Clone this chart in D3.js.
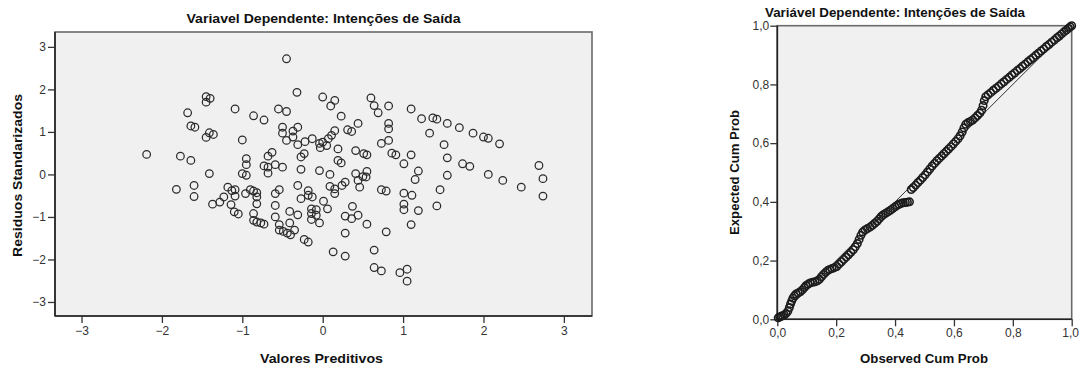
<!DOCTYPE html>
<html>
<head>
<meta charset="utf-8">
<script src="https://cdn.jsdelivr.net/npm/d3@7"></script>
<style>
  html, body { margin: 0; padding: 0; background: #ffffff; }
  svg { display: block; font-family: Arial, "Liberation Sans", sans-serif; }
</style>
</head>
<body>
<svg id="chart" width="1079" height="366"></svg>
<script>
// Scatter of standardized residuals against standardized predicted values
const predicted = [
  -0.45,-0.32,-1.45,-1.40,-1.45,-1.68,-1.09,-0.86,-0.73,-0.55,-0.45,0.00,0.15,0.10,0.23,
  -1.64,-1.59,-1.41,-1.36,-1.45,-1.00,-0.50,-0.31,-0.37,-0.50,-0.37,-0.45,-0.31,-0.22,-0.13,
  -0.04,0.00,0.05,-0.03,0.07,0.11,0.15,0.31,0.36,0.44,0.19,0.41,-0.23,-0.27,-2.19,
  -1.77,-1.64,-0.95,-0.95,-0.68,-0.63,-0.59,-0.73,-0.68,-0.50,-0.27,-1.41,-1.00,-0.95,-0.68,
  -0.04,0.09,0.41,0.19,0.23,
  -1.82,-1.60,-1.60,-1.37,-1.28,-1.23,-1.18,-1.13,-1.09,-1.09,-1.14,-1.10,-1.05,-0.96,-0.90,
  -0.86,-0.82,-0.82,-0.82,-0.86,-0.86,-0.82,-0.77,-0.73,-0.59,-0.54,-0.59,-0.59,-0.54,-0.54,
  -0.49,-0.44,-0.40,-0.35,-0.41,-0.41,-0.31,-0.31,-0.27,-0.18,-0.18,-0.13,-0.23,-0.18,-0.14,
  -0.14,-0.14,-0.08,-0.08,-0.04,0.01,0.06,0.09,0.15,0.15,0.24,0.28,0.44,0.13,0.28,
  0.28,0.28,0.36,0.37,0.44,
  0.46,0.50,0.54,0.55,0.55,0.73,0.79,0.79,0.64,0.64,0.73,0.96,1.05,1.05,1.01,
  1.11,1.01,1.01,1.19,1.10,1.15,1.19,1.42,1.46,1.55,2.06,2.24,2.47,2.74,2.74,
  0.60,0.64,0.69,0.82,1.10,0.82,0.82,1.23,1.37,1.42,1.55,1.70,1.33,1.87,2.00,
  2.06,2.20,0.73,0.82,0.51,0.55,0.86,0.91,1.10,1.01,1.51,1.55,1.74,1.83,2.69
];
const residuals = [
  2.72,1.93,1.83,1.79,1.70,1.45,1.54,1.38,1.28,1.54,1.48,1.82,1.74,1.61,1.37,
  1.14,1.11,0.98,0.94,0.87,0.81,1.11,1.11,1.02,0.97,0.88,0.80,0.70,0.77,0.84,
  0.73,0.76,0.68,0.63,0.84,0.92,1.03,1.05,1.01,1.20,0.60,0.56,0.49,0.41,0.47,
  0.43,0.33,0.37,0.23,0.43,0.52,0.23,0.20,0.17,0.17,0.12,0.02,0.02,-0.02,0.03,
  0.09,0.00,0.02,0.33,0.27,
  -0.35,-0.26,-0.52,-0.70,-0.65,-0.53,-0.30,-0.38,-0.36,-0.51,-0.71,-0.88,-0.93,-0.45,-0.36,
  -0.39,-0.43,-0.53,-0.69,-0.92,-1.08,-1.12,-1.14,-1.17,-0.45,-0.36,-0.73,-1.00,-1.18,-1.31,
  -1.34,-1.38,-1.42,-1.31,-1.14,-0.87,-0.26,-0.95,-0.57,-0.38,-0.49,-0.53,-1.53,-1.59,-0.81,
  -0.92,-1.06,-0.83,-0.96,-1.14,-0.63,-0.81,-0.28,-0.34,-0.45,-0.26,-0.18,-0.14,-1.82,-1.92,
  -1.38,-0.98,-1.04,-0.75,-0.96,
  -0.30,-0.05,-0.06,0.07,-1.17,-0.36,-0.39,-1.35,-1.78,-2.19,-2.27,-2.31,-2.23,-2.51,-0.44,
  -0.49,-0.70,-0.83,-0.85,-1.18,-0.12,0.08,-0.74,-0.36,-0.02,0.00,-0.14,-0.30,-0.10,-0.51,
  1.80,1.62,1.45,1.61,1.54,1.20,1.07,1.31,1.33,1.30,1.20,1.10,0.97,0.97,0.88,
  0.85,0.72,0.73,0.80,0.49,0.46,0.50,0.46,0.46,0.25,0.70,0.39,0.25,0.19,0.21
];
const scatterTicks = [-3, -2, -1, 0, 1, 2, 3];

// Normal P-P plot of the standardized residuals
const observedCum = [
  0.003,0.008,0.013,0.018,0.024,0.030,0.036,0.041,0.045,0.049,0.053,0.058,0.064,0.071,0.078,
  0.085,0.092,0.098,0.105,0.112,0.120,0.128,0.136,0.143,0.150,0.157,0.164,0.171,0.178,0.186,
  0.194,0.202,0.210,0.218,0.226,0.234,0.242,0.250,0.258,0.265,0.272,0.278,0.284,0.290,0.298,
  0.306,0.315,0.323,0.331,0.339,0.346,0.353,0.360,0.368,0.376,0.384,0.392,0.400,0.407,0.414,
  0.421,0.428,0.435,0.442,0.449,
  0.455,0.462,0.470,0.478,0.486,0.494,0.502,0.510,0.518,0.526,0.534,0.542,0.550,0.558,0.566,
  0.574,0.582,0.590,0.598,0.606,0.614,0.621,0.628,0.634,0.640,0.648,0.656,0.664,0.672,0.680,
  0.688,0.694,0.699,0.703,0.708,0.716,0.725,0.734,0.743,0.752,0.761,0.770,0.779,0.788,0.797,
  0.806,0.815,0.824,0.833,0.842,0.851,0.860,0.869,0.878,0.887,0.896,0.905,0.914,0.923,0.932,
  0.941,0.950,0.958,0.966,0.974,0.982,0.989,0.995,1.000
];
const expectedCum = [
  0.005,0.008,0.010,0.012,0.015,0.020,0.028,0.040,0.052,0.062,0.072,0.080,0.086,0.090,0.094,
  0.100,0.108,0.115,0.120,0.124,0.126,0.128,0.131,0.136,0.145,0.153,0.160,0.166,0.170,0.173,
  0.176,0.180,0.188,0.196,0.204,0.212,0.220,0.228,0.237,0.247,0.258,0.272,0.286,0.297,0.304,
  0.309,0.314,0.320,0.327,0.334,0.342,0.350,0.356,0.361,0.366,0.371,0.377,0.383,0.388,0.392,
  0.395,0.397,0.398,0.399,0.400,
  0.442,0.449,0.457,0.466,0.474,0.483,0.492,0.502,0.512,0.522,0.531,0.540,0.548,0.556,0.564,
  0.572,0.580,0.588,0.597,0.606,0.615,0.625,0.638,0.652,0.664,0.670,0.674,0.679,0.686,0.694,
  0.702,0.712,0.728,0.745,0.758,0.765,0.772,0.780,0.787,0.794,0.802,0.809,0.817,0.824,0.832,
  0.839,0.847,0.854,0.862,0.869,0.877,0.884,0.891,0.899,0.906,0.914,0.921,0.929,0.936,0.944,
  0.951,0.959,0.965,0.972,0.979,0.985,0.991,0.996,1.000
];
const probTicks = [0, 0.2, 0.4, 0.6, 0.8, 1.0];

const svg = d3.select("#chart");
const commaFmt = d => d3.format(".1f")(d).replace(".", ",");
const plotFill = "#f0f0f0";
const markStroke = "#2b2b2b";

function styleAxis(g) {
  g.select(".domain").remove();
  g.selectAll(".tick line").attr("stroke", "#333").attr("stroke-width", 1.3);
  g.selectAll(".tick text").attr("fill", "#333").attr("font-size", 12)
    .attr("font-family", "Arial, 'Liberation Sans', sans-serif");
}

function drawFrame(x0, y0, x1, y1) {
  // plot background + light right/top border, dark axis lines left/bottom
  svg.append("rect").attr("x", x0).attr("y", y0).attr("width", x1 - x0).attr("height", y1 - y0)
    .attr("fill", plotFill).attr("stroke", "#6a6a6a").attr("stroke-width", 1.6);
  svg.append("line").attr("x1", x0).attr("x2", x0).attr("y1", y0).attr("y2", y1)
    .attr("stroke", "#222").attr("stroke-width", 1.6);
  svg.append("line").attr("x1", x0).attr("x2", x1).attr("y1", y1).attr("y2", y1)
    .attr("stroke", "#222").attr("stroke-width", 1.6);
}

function boldText(x, y, txt, len, rotate) {
  const t = svg.append("text")
    .attr("font-weight", "bold").attr("font-size", 13).attr("fill", "#111")
    .attr("text-anchor", "middle")
    .attr("textLength", len).attr("lengthAdjust", "spacingAndGlyphs")
    .text(txt);
  if (rotate) t.attr("transform", `translate(${x},${y}) rotate(-90)`);
  else t.attr("x", x).attr("y", y);
  return t;
}

// ---- Left panel: residuals vs predicted ----
const xL = d3.scaleLinear().domain([-3.33, 3.35]).range([55, 592]);
const yL = d3.scaleLinear().domain([-3.33, 3.35]).range([316, 32]);

drawFrame(55, 32, 592, 316);

svg.append("g").attr("transform", "translate(55,0)")
  .call(d3.axisLeft(yL).tickValues(scatterTicks).tickSize(7).tickPadding(2).tickFormat(d3.format("d")))
  .call(styleAxis);
svg.append("g").attr("transform", "translate(0,316)")
  .call(d3.axisBottom(xL).tickValues(scatterTicks).tickSize(7).tickPadding(3).tickFormat(d3.format("d")))
  .call(styleAxis);

svg.append("g").selectAll("circle")
  .data(d3.range(predicted.length))
  .join("circle")
  .attr("cx", i => xL(predicted[i]))
  .attr("cy", i => yL(residuals[i]))
  .attr("r", 3.8)
  .attr("fill", "none")
  .attr("stroke", markStroke)
  .attr("stroke-width", 1.25);

boldText(323.5, 23, "Variavel Dependente: Intenções de Saída", 274);
boldText(22, 175.5, "Residuos Standarizados", 163, true);
boldText(321.5, 363, "Valores Preditivos", 123);

// ---- Right panel: normal P-P plot ----
const xR = d3.scaleLinear().domain([0, 1]).range([777.3, 1071.7]);
const yR = d3.scaleLinear().domain([0, 1]).range([319.3, 25.7]);

drawFrame(777.3, 25.7, 1071.7, 319.3);

svg.append("g").attr("transform", "translate(777.3,0)")
  .call(d3.axisLeft(yR).tickValues(probTicks).tickSize(7).tickPadding(1).tickFormat(commaFmt))
  .call(styleAxis);
const xAxisR = svg.append("g").attr("transform", "translate(0,319.3)")
  .call(d3.axisBottom(xR).tickValues(probTicks).tickSize(7).tickPadding(2).tickFormat(commaFmt))
  .call(styleAxis);
// keep the last label inside the page edge
xAxisR.selectAll(".tick text").filter(d => d === 1).attr("dx", -1.5);

// reference diagonal
svg.append("line")
  .attr("x1", xR(0)).attr("y1", yR(0)).attr("x2", xR(1)).attr("y2", yR(1))
  .attr("stroke", "#333").attr("stroke-width", 1);

svg.append("g").selectAll("circle")
  .data(d3.range(observedCum.length))
  .join("circle")
  .attr("cx", i => xR(observedCum[i]))
  .attr("cy", i => yR(expectedCum[i]))
  .attr("r", 3.7)
  .attr("fill", "none")
  .attr("stroke", "#1c1c1c")
  .attr("stroke-width", 1.6);

boldText(895, 17, "Variável Dependente: Intenções de Saída", 260);
boldText(739, 172.5, "Expected Cum Prob", 125, true);
boldText(924, 363, "Observed Cum Prob", 128);
</script>
</body>
</html>
